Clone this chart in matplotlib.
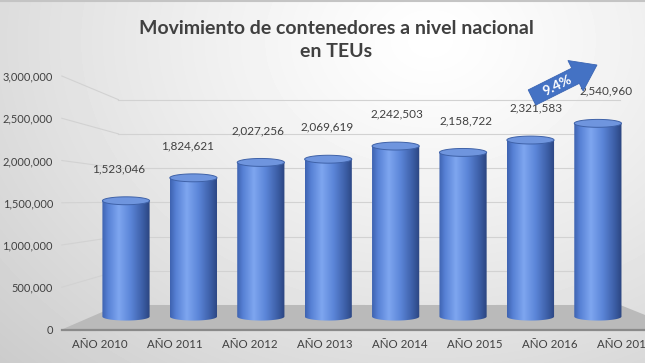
import numpy as np
import matplotlib
matplotlib.use('Agg')
import matplotlib.pyplot as plt
from matplotlib.patches import Polygon, FancyArrow
from matplotlib.colors import LinearSegmentedColormap
from matplotlib.lines import Line2D

# data
years = ['AÑO 2010', 'AÑO 2011', 'AÑO 2012', 'AÑO 2013',
         'AÑO 2014', 'AÑO 2015', 'AÑO 2016', 'AÑO 2017']
teus = [1523046, 1824621, 2027256, 2069619, 2242503, 2158722, 2321583, 2540960]
y_ticks = [0, 500000, 1000000, 1500000, 2000000, 2500000, 3000000]
growth = '9.4%'
title = 'Movimiento de contenedores a nivel nacional\nen TEUs'

plt.rcParams['font.family'] = ['Lato', 'DejaVu Sans']

W, H = 645, 363
fig = plt.figure(figsize=(W / 100, H / 100), dpi=100)

# soft grey background, lighter in the upper middle
bg = fig.add_axes([0, 0, 1, 1])
bg.axis('off')
yy, xx = np.mgrid[0:H, 0:W]
r = np.hypot((xx - 430) / 520, (yy - 40) / 400)
shade = 1.0 - 0.17 * np.clip(r, 0, 1.2) ** 1.2
bg.imshow(shade, cmap='gray', vmin=0, vmax=1, extent=[0, W, 0, H], aspect='auto')
bg.set_xlim(0, W)
bg.set_ylim(0, H)
fig.add_artist(Line2D([0, 1], [1 - 1 / H, 1 - 1 / H], color='#C4C4C4', lw=1.5))

# main axes = front plane of the 3d box
left_px, zero_px, top_px = 62, 329.5, 76
cat0_px, cat_step = 100, 74.9
ax = fig.add_axes([left_px / W, (H - zero_px) / H, (W - left_px) / W, (zero_px - top_px) / H])
ax.patch.set_alpha(0)
x_lo = (left_px - cat0_px) / cat_step
x_hi = (W - cat0_px) / cat_step
ax.set_xlim(x_lo, x_hi)
ax.set_ylim(0, 3000000)

# simple perspective: depth s scales about the vanishing point
VX = (360 - cat0_px) / cat_step
VY = (zero_px - 200.5) / (zero_px - top_px) * 3000000
FRONT, BAR, BACK = 1.0, 0.9, 0.81
XL, XR = -0.51, 7.76


def proj(x, y, s):
    x = np.asarray(x, float)
    y = np.asarray(y, float)
    return VX + s * (x - VX), VY + s * (y - VY)


# floor
fx, fy = proj([XL, XR, XR, XL], [0, 0, 0, 0], np.array([FRONT, FRONT, BACK, BACK]))
ax.add_patch(Polygon(np.column_stack([fx, fy]), closed=True, facecolor='#BABABA',
                     edgecolor='none', clip_on=False, zorder=1))
ax.plot(*proj([XL, XR], [0, 0], FRONT), color='#8A8A8A', lw=1.6, clip_on=False, zorder=2)

# gridlines on back wall and left wall
for t in y_ticks[1:]:
    ax.plot(*proj([XL, XR], [t, t], BACK), color='#D2D2D2', lw=0.8, clip_on=False, zorder=0.5)
    bx, by = proj(XL, t, BACK)
    fx0, fy0 = proj(XL, t, FRONT)
    ax.plot([fx0, bx], [fy0, by], color='#D2D2D2', lw=0.8, clip_on=False, zorder=0.5)

# cylinders
bar_cmap = LinearSegmentedColormap.from_list('cyl', [
    (0.0, '#3E63B0'), (0.12, '#5680D4'), (0.35, '#7EA6F0'),
    (0.6, '#5B85D8'), (0.85, '#3C5EA6'), (1.0, '#2B4580')])
grad = np.linspace(0, 1, 200).reshape(1, -1)
hw = 0.35
eb = 52000
theta = np.linspace(0, np.pi, 60)

for i, v in enumerate(teus):
    bx_pts = np.concatenate([[i - hw, i - hw], i - hw * np.cos(theta), [i + hw]])
    by_pts = np.concatenate([[v, 0], -eb * np.sin(theta), [v]])
    px, py = proj(bx_pts, by_pts, BAR)
    body = Polygon(np.column_stack([px, py]), closed=True, facecolor='none',
                   edgecolor='none', zorder=3)
    ax.add_patch(body)
    x0, y0 = proj(i - hw, -eb, BAR)
    x1, y1 = proj(i + hw, v + eb, BAR)
    im = ax.imshow(grad, cmap=bar_cmap, extent=[x0, x1, y0, y1], aspect='auto',
                   zorder=3, interpolation='bilinear')
    im.set_clip_path(body)

    t2 = np.linspace(0, 2 * np.pi, 80)
    tx, ty = proj(i + hw * np.cos(t2), v + eb * np.sin(t2), BAR)
    ax.add_patch(Polygon(np.column_stack([tx, ty]), closed=True, facecolor='#6F95DE',
                         edgecolor='#3F62A8', lw=0.7, zorder=4))

    lx, _ = proj(i, v, 0.93)
    _, ly = proj(i, v, BAR)
    ax.annotate(f'{v:,}', xy=(lx, ly), xytext=(0, 23), textcoords='offset points',
                ha='center', va='center', fontsize=8.5, color='#404040', zorder=5)

ax.set_xlim(x_lo, x_hi)
ax.set_ylim(0, 3000000)

ax.set_xticks(range(len(years)))
ax.set_xticklabels(years)
ax.set_yticks(y_ticks)
ax.set_yticklabels([f'{t:,}' for t in y_ticks])
ax.tick_params(axis='x', length=0, pad=7, labelsize=8.3, labelcolor='#404040')
ax.tick_params(axis='y', length=0, pad=6.5, labelsize=7.9, labelcolor='#404040')
for sp in ax.spines.values():
    sp.set_visible(False)

# growth arrow
arrow = FancyArrow(5.32, (H - 97.5) / 100, 0.65, 0.325, width=0.17, head_width=0.34,
                   head_length=0.24, length_includes_head=True,
                   facecolor='#4472C4', edgecolor='#3A65B4', lw=0.6,
                   transform=fig.dpi_scale_trans, clip_on=False, zorder=6)
ax.add_patch(arrow)
fig.text(557 / W, 1 - 85.5 / H, growth, rotation=26.7, rotation_mode='anchor',
         ha='center', va='center', color='white', fontsize=10, fontweight='bold', zorder=7)

fig.text(336 / W, 1 - 40 / H, title, ha='center', va='center', fontsize=14,
         fontweight='bold', color='#404040', linespacing=1.38)

fig.savefig('out.png', dpi=100)
